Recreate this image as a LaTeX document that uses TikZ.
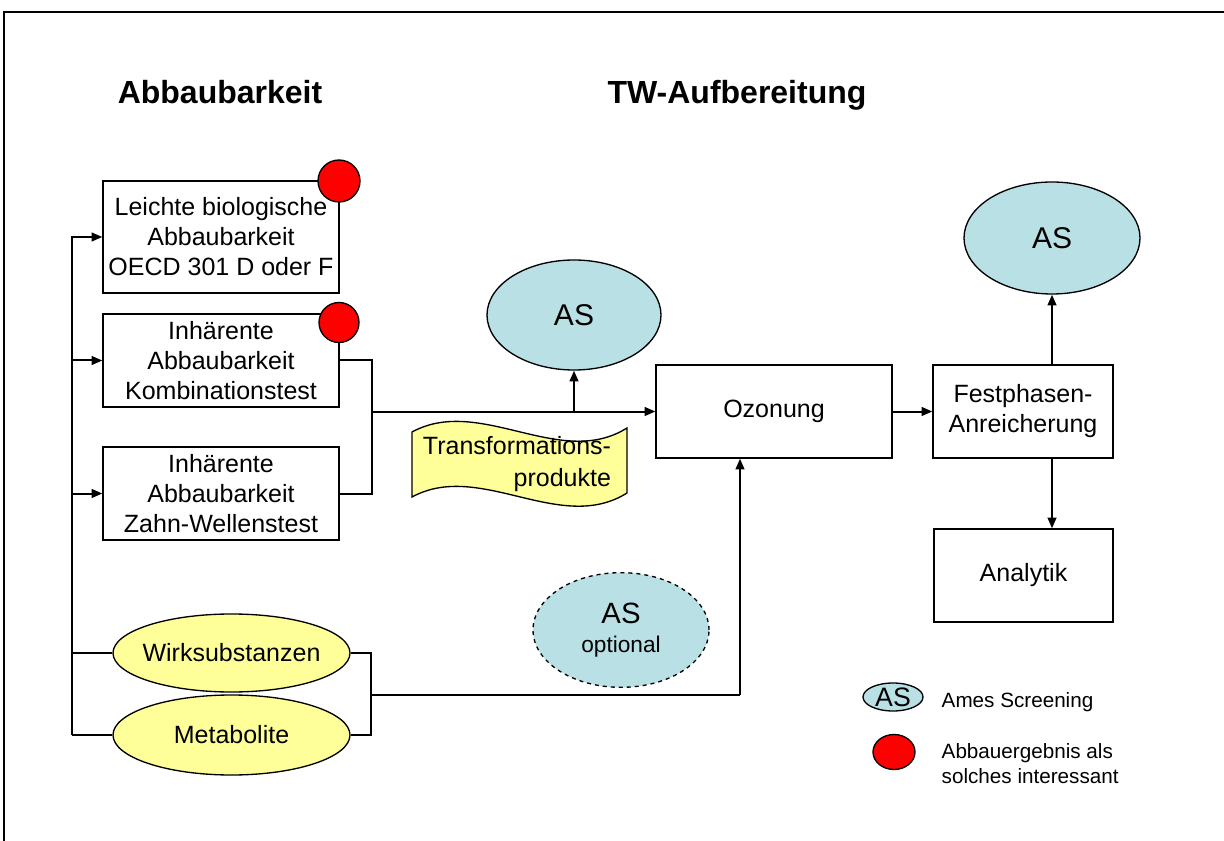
\documentclass[tikz,border=0pt]{standalone}
\usepackage{fontspec}
\setmainfont{Liberation Sans}
\usetikzlibrary{arrows.meta,shapes.geometric}
\definecolor{asblue}{RGB}{185,224,228}
\definecolor{yel}{RGB}{255,255,153}
\begin{document}
\begin{tikzpicture}[x=0.75pt,y=-0.75pt,
  box/.style={draw,line width=1pt,rectangle,inner sep=0pt,align=center,font=\fontsize{18.75}{22.5}\selectfont},
  ell/.style={draw,line width=1pt,ellipse,inner sep=0pt,align=center,font=\fontsize{18.75}{22.5}\selectfont},
  bigas/.style={ell,fill=asblue,font=\fontsize{22.5}{26}\selectfont},
  con/.style={line width=1.5pt},
  arr/.style={con,-{Triangle[length=8pt,width=6.5pt]}},
  redc/.style={draw,line width=1pt,circle,fill=red,inner sep=0pt},
  title/.style={anchor=base,font=\bfseries\fontsize{24}{28}\selectfont},
  legtext/.style={font=\fontsize{15.5}{18.75}\selectfont}]
\useasboundingbox (0,0) rectangle (1224,841);
% frame
\draw[line width=2.2pt] (4,841) -- (4,12) -- (1224,12);
% titles
\node[title] (tabb) at (220,104) {Abbaubarkeit};
\node[title] (ttw) at (737,104) {TW-Aufbereitung};
% left boxes
\node[box,minimum width=177pt,minimum height=84pt] (b1) at (221,237) {Leichte biologische\\Abbaubarkeit\\OECD 301 D oder F};
\node[box,minimum width=177pt,minimum height=69.75pt] (b2) at (221,360.5) {Inhärente\\Abbaubarkeit\\Kombinationstest};
\node[box,minimum width=177pt,minimum height=69.75pt] (b3) at (221,493.5) {Inhärente\\Abbaubarkeit\\Zahn-Wellenstest};
\node[redc,minimum size=31.5pt] (r1) at (339,181) {};
\node[redc,minimum size=30pt] (r2) at (339,322.5) {};
% substances
\node[ell,fill=yel,inner xsep=-5pt,minimum width=177.75pt,minimum height=60pt] (metab) at (231.5,735) {Metabolite};
\node[ell,fill=yel,inner xsep=-5pt,minimum width=177.75pt,minimum height=58.5pt] (wirk) at (231.5,653) {Wirksubstanzen};
% transformation products
\draw[line width=1pt,fill=yel] (412,432) .. controls (480,395) and (560,470) .. (627,428) -- (627,493) .. controls (560,535) and (480,460) .. (412,497) -- cycle;
\node[align=right,font=\fontsize{18.75}{23.5}\selectfont] (trtext) at (517,464) {Transformations-\\produkte};
% right part
\node[bigas,minimum width=130.5pt,minimum height=82.5pt] (as1) at (574,315) {AS};
\node[box,minimum width=177pt,minimum height=69.75pt] (ozon) at (774,411.5) {Ozonung};
\node[box,minimum width=135pt,minimum height=69.75pt] (fest) at (1023,411.5) {Festphasen-\\Anreicherung};
\node[box,minimum width=134.25pt,minimum height=69.75pt] (ana) at (1023.5,575.5) {Analytik};
\node[bigas,minimum width=132pt,minimum height=84pt] (as2) at (1052,238) {AS};
\node[ell,fill=asblue,dashed,minimum width=132pt,minimum height=86pt] (asopt) at (621,630) {\fontsize{22}{26}\selectfont AS\\[-1pt]\fontsize{17}{20}\selectfont optional};
% legend
\node[ell,fill=asblue,inner xsep=-4pt,inner ysep=-3pt,minimum width=45pt,minimum height=21pt,font=\fontsize{20}{22}\selectfont] (lgas) at (893,697) {AS};
\node[draw,line width=1pt,ellipse,fill=red,inner sep=0pt,minimum width=31.5pt,minimum height=26.25pt] (lgred) at (894,752) {};
\node[legtext,anchor=base west] (lt1) at (937,707) {Ames Screening};
\node[legtext,anchor=west,align=left] (lt2) at (937,764) {Abbauergebnis als\\solches interessant};
% connectors
\coordinate (bus) at (72,735);
\draw[con] (metab.west) -- (bus);
\draw[arr] (bus) |- (b1.west);
\draw[arr] (bus |- b2.west) -- (b2.west);
\draw[arr] (bus |- b3.west) -- (b3.west);
\draw[con] (wirk.west) -- (bus |- wirk.west);
\coordinate (j1) at (372,411.5);
\draw[con] (b2.east) -| (j1);
\draw[con] (b3.east) -| (j1);
\draw[arr] (j1) -- (ozon.west);
\draw[arr] (as1.south |- j1) -- (as1.south);
\draw[arr] (ozon.east) -- (fest.west);
\draw[arr] (as2.south |- fest.north) -- (as2.south);
\draw[arr] (as2.south |- fest.south) -- (as2.south |- ana.north);
\coordinate (j2) at (371,695);
\coordinate (j3) at (740,695);
\draw[con] (wirk.east) -| (j2);
\draw[con] (metab.east) -| (j2);
\draw[con] (j2) -- (j3);
\draw[arr] (j3) -- (j3 |- ozon.south);
\end{tikzpicture}
\end{document}
